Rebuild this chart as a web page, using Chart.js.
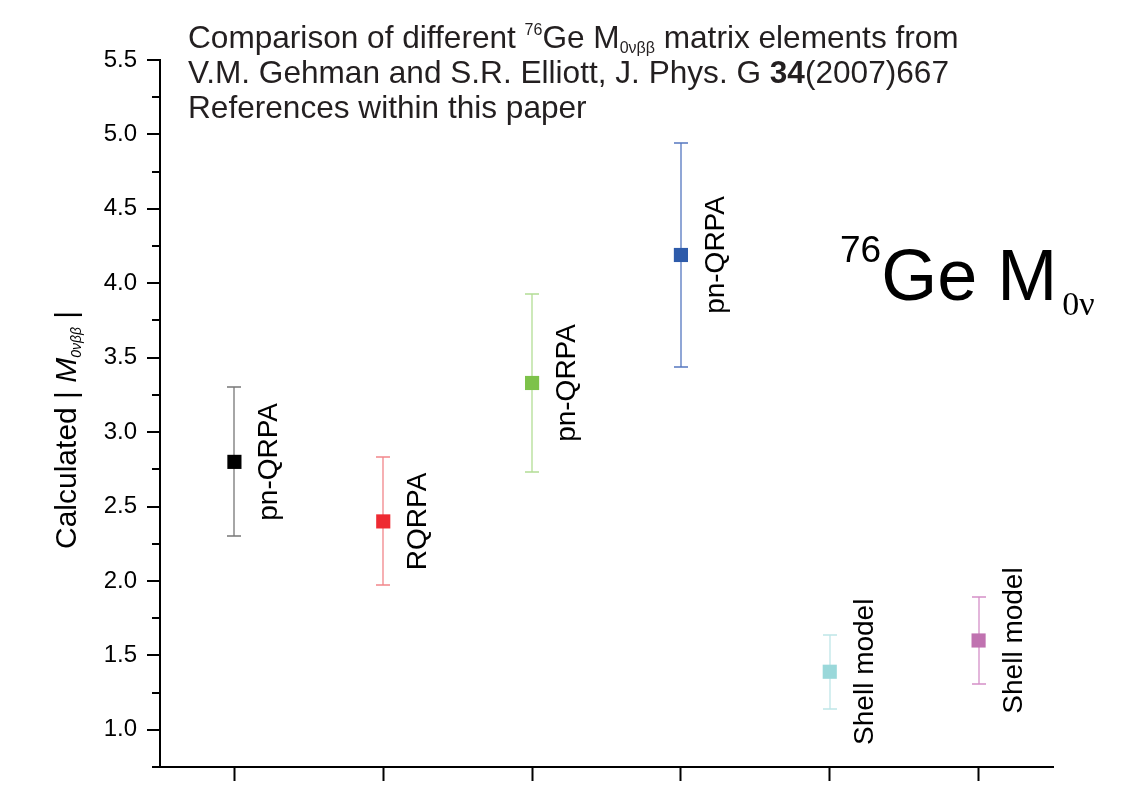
<!DOCTYPE html>
<html>
<head>
<meta charset="utf-8">
<script src="https://cdn.jsdelivr.net/npm/chart.js@4.4.1/dist/chart.umd.min.js"></script>
<style>
  html, body { margin: 0; padding: 0; background: #fff; }
  #box { position: relative; width: 1136px; height: 785px; }
</style>
</head>
<body>
<div id="box"><canvas id="chart"></canvas></div>
<script>
// Daten: berechnete Matrixelemente fuer 76Ge
const methoden = ["pn-QRPA", "RQRPA", "pn-QRPA", "pn-QRPA", "Shell model", "Shell model"];
const xPositionen = [1, 2, 3, 4, 5, 6];
const werte = [2.80, 2.40, 3.33, 4.19, 1.39, 1.60];
const fehlerUnten = [2.30, 1.97, 2.73, 3.44, 1.14, 1.31];
const fehlerOben = [3.30, 2.83, 3.93, 4.94, 1.64, 1.89];

// Farben der Punkte und der Fehlerbalken
const punktFarben = ["#000000", "#ee2a32", "#7dc24a", "#2e5baa", "#9ad8da", "#c072b0"];
const balkenFarben = ["#777777", "#f2868a", "#b3dd95", "#5577c0", "#bfe6e8", "#d590c8"];

const punkte = xPositionen.map((x, i) => ({ x: x, y: werte[i] }));

// Fehlerbalken unter den Punkten zeichnen, Beschriftung darueber
const fehlerbalkenPlugin = {
  id: "fehlerbalken",
  beforeDatasetsDraw(chart) {
    const ctx = chart.ctx;
    const xs = chart.scales.x;
    const ys = chart.scales.y;
    ctx.save();
    ctx.lineWidth = 1.3;
    xPositionen.forEach((x, i) => {
      const px = Math.round(xs.getPixelForValue(x));
      const top = Math.round(ys.getPixelForValue(fehlerOben[i]));
      const bot = Math.round(ys.getPixelForValue(fehlerUnten[i]));
      ctx.strokeStyle = balkenFarben[i];
      ctx.beginPath();
      ctx.moveTo(px, top);
      ctx.lineTo(px, bot);
      ctx.moveTo(px - 7, top);
      ctx.lineTo(px + 7, top);
      ctx.moveTo(px - 7, bot);
      ctx.lineTo(px + 7, bot);
      ctx.stroke();
    });
    ctx.restore();
  },
  afterDatasetsDraw(chart) {
    const ctx = chart.ctx;
    const xs = chart.scales.x;
    const ys = chart.scales.y;
    ctx.save();
    ctx.fillStyle = "#000";
    ctx.font = "28px 'Liberation Sans', Arial, sans-serif";
    ctx.textAlign = "center";
    ctx.textBaseline = "alphabetic";
    xPositionen.forEach((x, i) => {
      ctx.save();
      ctx.translate(xs.getPixelForValue(x) + 43, ys.getPixelForValue(werte[i]));
      ctx.rotate(-Math.PI / 2);
      ctx.fillText(methoden[i], 0, 0);
      ctx.restore();
    });
    ctx.restore();
  }
};

// Kleine und grosse Striche an der y-Achse
const yStrichePlugin = {
  id: "yStriche",
  afterDraw(chart) {
    const ctx = chart.ctx;
    const ys = chart.scales.y;
    const left = chart.chartArea.left;
    ctx.save();
    ctx.strokeStyle = "#000";
    ctx.lineWidth = 2;
    ys.ticks.forEach(t => {
      const gross = Math.abs(t.value * 2 - Math.round(t.value * 2)) < 1e-6;
      const py = Math.round(ys.getPixelForValue(t.value));
      ctx.beginPath();
      ctx.moveTo(left, py);
      ctx.lineTo(left - (gross ? 13 : 8), py);
      ctx.stroke();
    });
    ctx.restore();
  }
};

function zeichneTeile(ctx, teile, x, y) {
  teile.forEach(t => {
    ctx.font = t.font;
    x += t.dx || 0;
    ctx.fillText(t.text, x, y + (t.dy || 0));
    x += ctx.measureText(t.text).width;
  });
}

// Titeltexte, Beschriftung der y-Achse und grosse Aufschrift
const textPlugin = {
  id: "texte",
  afterDraw(chart) {
    const ctx = chart.ctx;
    const f = "'Liberation Sans', Arial, sans-serif";
    ctx.save();
    ctx.textAlign = "left";
    ctx.textBaseline = "alphabetic";
    ctx.fillStyle = "#231f20";
    zeichneTeile(ctx, [
      { text: "Comparison of different ", font: "31.6px " + f },
      { text: "76", font: "16px " + f, dy: -13 },
      { text: "Ge M", font: "31.6px " + f },
      { text: "0\u03bd\u03b2\u03b2", font: "16px " + f, dy: 5 },
      { text: " matrix elements from", font: "31.6px " + f }
    ], 188, 48);
    zeichneTeile(ctx, [
      { text: "V.M. Gehman and S.R. Elliott, J. Phys. G ", font: "31.6px " + f },
      { text: "34", font: "bold 31.6px " + f },
      { text: "(2007)667", font: "31.6px " + f }
    ], 188, 83);
    zeichneTeile(ctx, [
      { text: "References within this paper", font: "31.6px " + f }
    ], 188, 118);

    // grosse Aufschrift
    ctx.fillStyle = "#000";
    zeichneTeile(ctx, [
      { text: "76", font: "37px " + f, dy: -38 },
      { text: "Ge M", font: "72px " + f },
      { text: "0\u03bd", font: "34px 'Liberation Serif', 'Times New Roman', serif", dy: 15, dx: 5 }
    ], 840, 300);

    // y-Achsentitel
    ctx.save();
    ctx.translate(76, 549);
    ctx.rotate(-Math.PI / 2);
    zeichneTeile(ctx, [
      { text: "Calculated | ", font: "30px " + f },
      { text: "M", font: "italic 30px " + f },
      { text: "0\u03bd\u03b2\u03b2", font: "italic 14px " + f, dy: 5 },
      { text: " |", font: "30px " + f }
    ], 0, 0);
    ctx.restore();
    ctx.restore();
  }
};

const ctx = document.getElementById("chart").getContext("2d");
new Chart(ctx, {
  type: "scatter",
  data: {
    datasets: [{
      data: punkte,
      pointStyle: "rect",
      pointRadius: 10,
      pointHoverRadius: 10,
      pointBackgroundColor: punktFarben,
      pointBorderColor: punktFarben,
      pointBorderWidth: 0
    }]
  },
  options: {
    responsive: true,
    maintainAspectRatio: false,
    animation: false,
    devicePixelRatio: 1,
    // Zeichenflaeche: links 160, oben 60, rechts 1053, unten 767
    layout: { padding: { top: 60, right: 83, left: 0, bottom: 0 } },
    plugins: {
      legend: { display: false },
      tooltip: { enabled: false }
    },
    scales: {
      x: {
        type: "linear",
        min: 0.5,
        max: 6.5,
        afterBuildTicks: scale => {
          scale.ticks = xPositionen.map(v => ({ value: v }));
        },
        afterFit: scale => { scale.height = 18; },
        ticks: { callback: () => "", autoSkip: false },
        grid: {
          display: true,
          drawOnChartArea: false,
          drawTicks: true,
          tickLength: 14,
          tickWidth: 2,
          tickColor: "#000"
        },
        border: { display: true, color: "#000", width: 2 }
      },
      y: {
        min: 0.75,
        max: 5.5,
        afterFit: scale => {
          scale.width = 160;
          scale.paddingTop = 0;
          scale.paddingBottom = 0;
        },
        ticks: {
          stepSize: 0.25,
          autoSkip: false,
          padding: 23,
          color: "#000",
          font: { family: "'Liberation Sans', Arial, sans-serif", size: 24 },
          callback: v => Math.abs(v * 2 - Math.round(v * 2)) < 1e-6 ? v.toFixed(1) : ""
        },
        grid: { display: false, drawTicks: false },
        border: { display: true, color: "#000", width: 2 }
      }
    }
  },
  plugins: [fehlerbalkenPlugin, yStrichePlugin, textPlugin]
});
</script>
</body>
</html>
